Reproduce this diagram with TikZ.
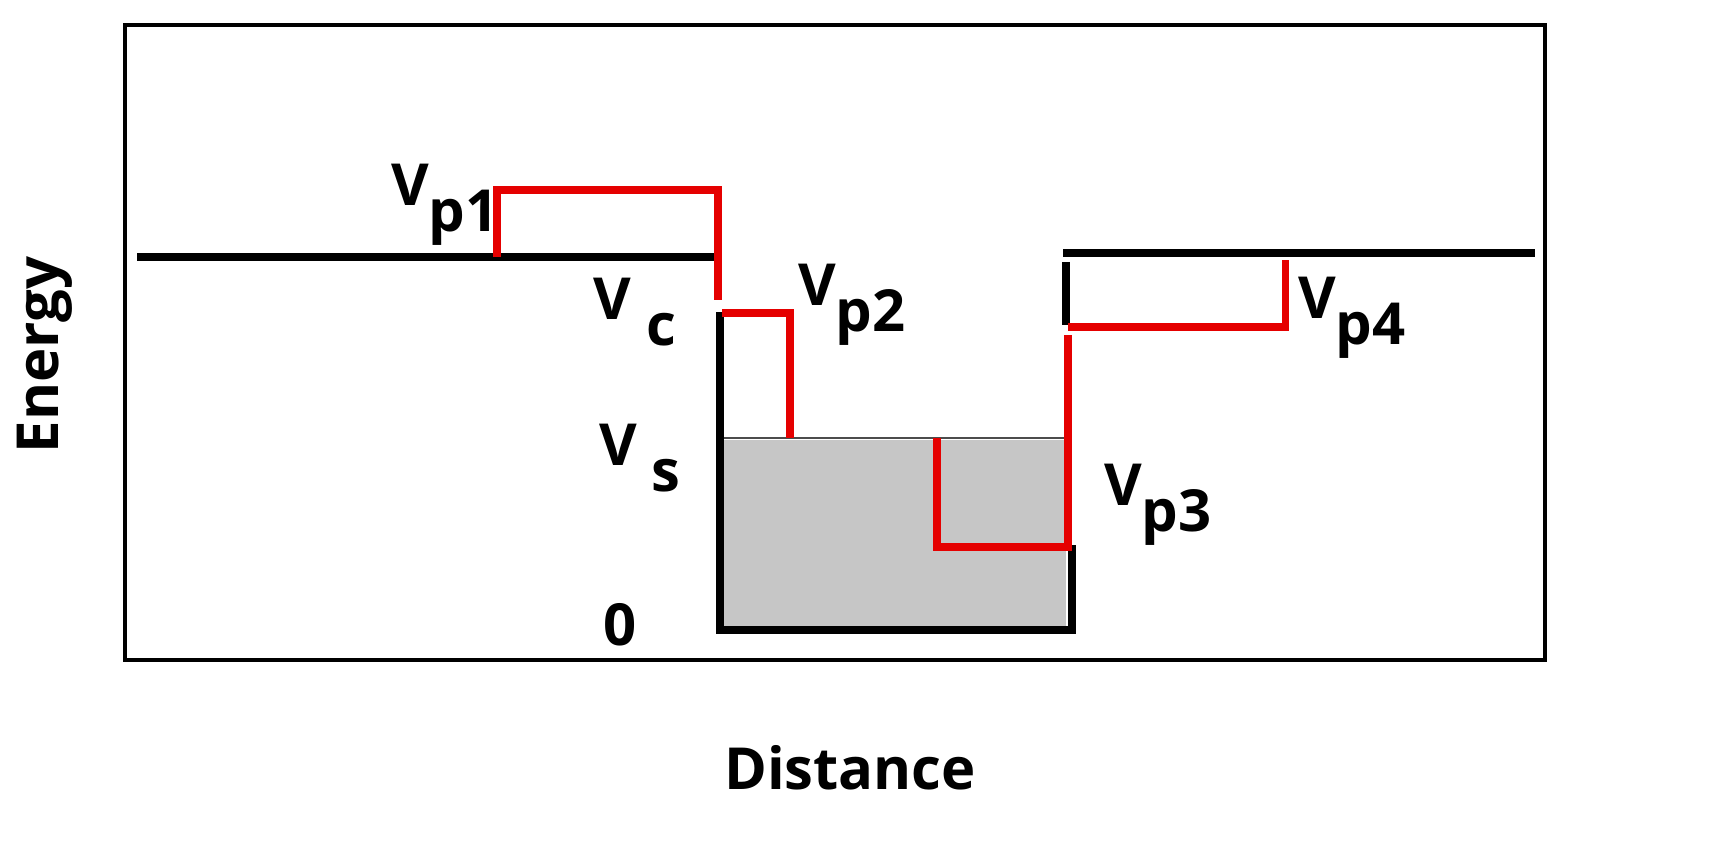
\documentclass[tikz,border=0pt]{standalone}
\usepackage{fontspec}
\setmainfont{Open Sans}
\newcommand{\lab}[2]{\textbf{#1\raisebox{-0.45em}{#2}}}
\begin{document}
\begin{tikzpicture}[x=0.02cm,y=-0.02cm,
  blk/.style={line width=4.5pt,black},
  red/.style={line width=4pt,red!90!black},
  txt/.style={font=\fontsize{33}{38}\selectfont\bfseries,inner sep=0pt}]
\useasboundingbox (0,0) rectangle (1728,847);
\draw[line width=2.5pt] (125,25) rectangle (1545,660);
\fill[gray!45] (722,440) rectangle (1066,628);
\draw[line width=1.2pt,gray!60!black] (722,438) -- (1066,438);
\draw[blk] (137,257) -- (718,257);
\draw[blk] (720,312) -- (720,630) -- (1072,630) -- (1072,545);
\draw[blk] (1066,262) -- (1066,325);
\draw[blk] (1063,253) -- (1535,253);
\draw[red] (497,257) -- (497,190) -- (718,190) -- (718,300);
\draw[red] (722,313) -- (790,313) -- (790,438);
\draw[red] (937,438) -- (937,547) -- (1068,547) -- (1068,335);
\draw[red] (1068,327) -- (1285,327) -- (1285,260);
\node[txt] (vp1) at (445,205) {\lab{V}{p1}};
\node[txt] (vc) at (635,312) {\lab{V}{ c}};
\node[txt] (vp2) at (852,305) {\lab{V}{p2}};
\node[txt] (vs) at (640,458) {\lab{V}{ s}};
\node[txt] (vp3) at (1158,505) {\lab{V}{p3}};
\node[txt] (vp4) at (1352,318) {\lab{V}{p4}};
\node[txt] (zero) at (620,625) {\textbf{0}};
\node[txt,rotate=90] (energy) at (45,355) {\textbf{Energy}};
\node[txt] (dist) at (850,768) {\textbf{Distance}};
\end{tikzpicture}
\end{document}
